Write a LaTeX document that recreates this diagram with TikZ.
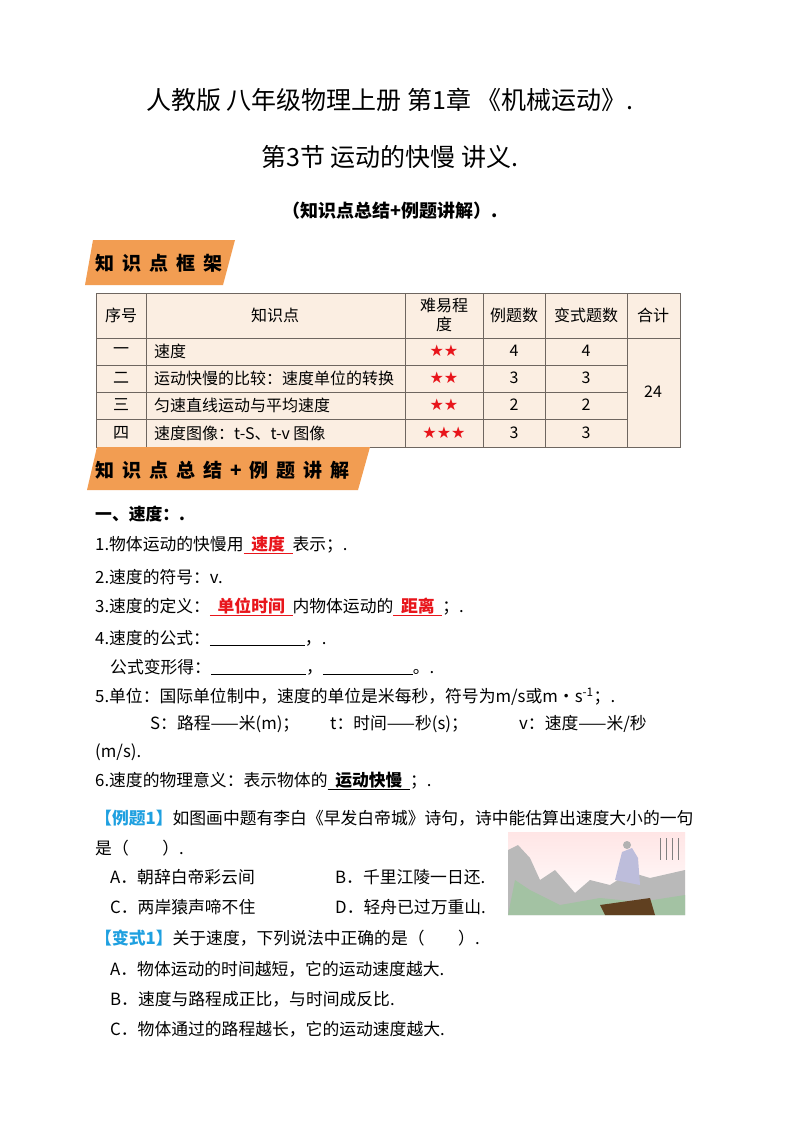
\documentclass[tikz,border=0pt]{standalone}
\usepackage{fontspec}
\setmainfont{Noto Sans CJK SC}
\newfontfamily\symfont{DejaVu Sans}
\usetikzlibrary{positioning}
\definecolor{bannerorange}{HTML}{F29D52}
\definecolor{tablefill}{HTML}{FBEEE2}
\definecolor{tabline}{HTML}{6E6660}
\definecolor{exblue}{HTML}{1FA0E0}
\definecolor{starred}{HTML}{E8151B}
\tikzset{
    % body text lines
    txt/.style={anchor=west, inner sep=0pt, font=\fontsize{16.8}{19}\selectfont},
    % table cells
    cell/.style={inner sep=0pt, font=\fontsize{16}{19}\selectfont, align=center},
    banner/.style={anchor=west, inner sep=0pt, font=\fontsize{19}{21}\selectfont\bfseries},
    title/.style={inner sep=0pt, font=\fontsize{25}{28}\selectfont}
}
\newcommand{\blank}[1]{$\underline{\hbox to #1{}}$}
\newcommand{\fillin}[2]{{\color{#1}$\underline{\hbox{\bfseries\ \ #2\ \ }}$}}
\newcommand{\stars}[1]{{\symfont\color{starred}#1}}
\newcommand{\gap}{\hspace{8pt}}
\begin{document}
\begin{tikzpicture}[x=1pt, y=-1pt]
 \useasboundingbox[fill=white] (0,0) rectangle (800,1132);

 % titles
 \node[title] (head1) at (390,100) {人教版\ 八年级物理上册\ 第1章\ 《机械运动》.};
 \node[title] (head2) at (390,157) {第3节\ 运动的快慢\ 讲义.};
 \node[title, font=\fontsize{18}{20}\selectfont\bfseries] (head3) at (390,211) {（知识点总结+例题讲解）.};

 % banner 1
 \fill[bannerorange] (93,240) -- (235,240) -- (223,285) -- (85,285) -- cycle;
 \node[banner] (frame) at (95,263) {知\gap 识\gap 点\gap 框\gap 架};

 % table
 \fill[tablefill] (96,293) rectangle (680,447);
 \draw[tabline, thick] (96,293) rectangle (680,447);
 \foreach \x in {146,405,483,545,627}
   \draw[tabline, thick] (\x,293) -- (\x,447);
 \foreach \y in {338,365,392,419}
   \draw[tabline, thick] (96,\y) -- (627,\y);
 \draw[tabline, thick] (627,338) -- (680,338);
 \node[cell] (hnum) at (121,315) {序号};
 \node[cell] (hpoint) at (275,315) {知识点};
 \node[cell] (hlevel) at (444,315) {难易程\\度};
 \node[cell] (hex) at (514,315) {例题数};
 \node[cell] (hvar) at (586,315) {变式题数};
 \node[cell] (hsum) at (653,315) {合计};
 \node[cell] (total) at (653,392) {24};
 \foreach \i/\y/\n/\t/\s/\e in {
     1/351/一/速度/★★/4,
     2/378/二/运动快慢的比较：速度单位的转换/★★/3,
     3/405/三/匀速直线运动与平均速度/★★/2,
     4/433/四/速度图像：t-S、t-v 图像/★★★/3} {
   \node[cell] (num\i) at (121,\y) {\n};
   \node[cell, anchor=west] (point\i) at (154,\y) {\t};
   \node[cell] (level\i) at (444,\y) {\stars{\s}};
   \node[cell] (ex\i) at (514,\y) {\e};
   \node[cell] (var\i) at (586,\y) {\e};
 }

 % banner 2
 \fill[bannerorange] (97,447) -- (370,447) -- (358,490) -- (87,490) -- cycle;
 \node[banner] (summary) at (95,470) {知\gap 识\gap 点\gap 总\gap 结\gap +\gap 例\gap 题\gap 讲\gap 解};

 % body
 \node[txt, font=\fontsize{16.8}{19}\selectfont\bfseries] (sec1) at (95,514) {一、速度：.};
 \node[txt] (l1) at (95,545) {1.物体运动的快慢用\fillin{starred}{速度}表示；.};
 \node[txt] (l2) at (95,577) {2.速度的符号：v.};
 \node[txt] (l3) at (95,607) {3.速度的定义：\fillin{starred}{单位时间}内物体运动的\fillin{starred}{距离}；.};
 \node[txt] (l4) at (95,638) {4.速度的公式：\blank{95pt}，.};
 \node[txt] (l4b) at (110,667) {公式变形得：\blank{95pt}，\blank{90pt}。.};
 \node[txt] (l5) at (95,697) {5.单位：国际单位制中，速度的单位是米每秒，符号为m/s或m·s\textsuperscript{-1}；.};
 \node[txt] (l5a) at (150,724) {S：路程——米(m)；};
 \node[txt] (l5b) at (330,724) {t：时间——秒(s)；};
 \node[txt] (l5c) at (519,724) {v：速度——米/秒};
 \node[txt] (l5d) at (95,752) {(m/s).};
 \node[txt] (l6) at (95,781) {6.速度的物理意义：表示物体的\fillin{black}{运动快慢}；.};
 \node[txt] (ex1) at (95,818) {{\color{exblue}\bfseries【例题1】}如图画中题有李白《早发白帝城》诗句，诗中能估算出速度大小的一句};
 \node[txt] (ex1b) at (95,848) {是（\quad\quad）.};
 \node[txt] (ex1A) at (110,877) {A．朝辞白帝彩云间};
 \node[txt] (ex1B) at (335,877) {B．千里江陵一日还.};
 \node[txt] (ex1C) at (110,907) {C．两岸猿声啼不住};
 \node[txt] (ex1D) at (335,907) {D．轻舟已过万重山.};
 \node[txt] (var1) at (95,938) {{\color{exblue}\bfseries【变式1】}关于速度，下列说法中正确的是（\quad\quad）.};
 \node[txt] (var1A) at (110,969) {A．物体运动的时间越短，它的运动速度越大.};
 \node[txt] (var1B) at (110,999) {B．速度与路程成正比，与时间成反比.};
 \node[txt] (var1C) at (110,1029) {C．物体通过的路程越长，它的运动速度越大.};

 % painting
 \begin{scope}
  \clip (508,832) rectangle (685,915);
  \fill[top color=pink!40, bottom color=white] (508,832) rectangle (685,915);
  \fill[gray!55] (508,915) -- (508,850) -- (518,845) -- (530,858) -- (540,880) -- (555,870) -- (575,893) -- (590,880) -- (610,885) -- (630,872) -- (650,878) -- (685,870) -- (685,915) -- cycle;
  \fill[green!20!gray!60] (508,915) -- (515,880) -- (530,890) -- (560,905) -- (600,898) -- (640,902) -- (685,895) -- (685,915) -- cycle;
  \fill[gray!70!blue!40] (615,880) -- (622,852) -- (632,848) -- (638,858) -- (640,885) -- cycle;
  \fill[gray!60] (627,845) circle (4);
  \fill[brown!50!black] (600,905) -- (650,898) -- (655,915) -- (605,915) -- cycle;
  \foreach \x in {660,666,672,678}
    \draw[gray, thin] (\x,838) -- (\x,860);
 \end{scope}
\end{tikzpicture}
\end{document}
